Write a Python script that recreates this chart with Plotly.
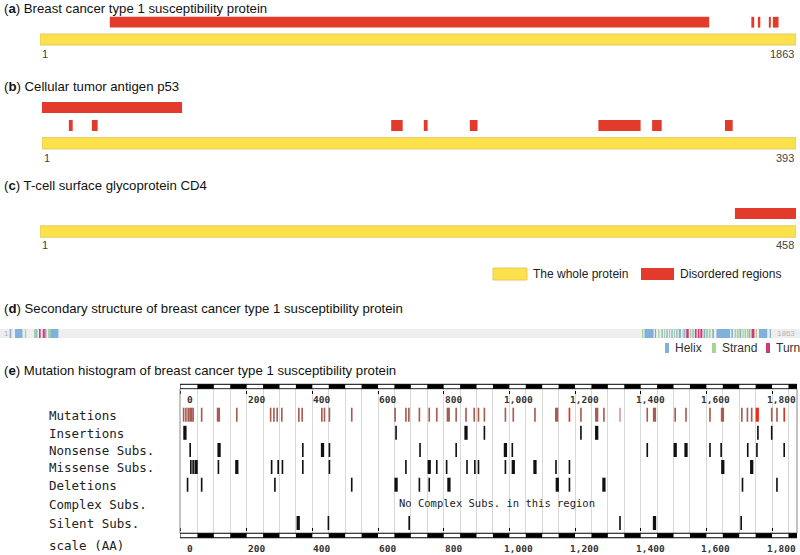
import plotly.graph_objects as go

W, H = 800, 555

# ---------------- data ----------------
BRCA1_LEN = 1863
BRCA1_DIS_START = [173, 1754, 1770, 1797, 1807]
BRCA1_DIS_END = [1649, 1760, 1775, 1801, 1820]

P53_LEN = 393
P53_DIS1_START = [1]
P53_DIS1_END = [73]
P53_DIS2_START = [15, 27, 183, 200, 224, 291, 319, 357]
P53_DIS2_END = [16, 29, 188, 201, 227, 312, 323, 360]

CD4_LEN = 458
CD4_DIS_START = [422]
CD4_DIS_END = [458]

HELIX_START = [5, 18, 69, 90, 103, 1541, 1566, 1582, 1594, 1606, 1618, 1624, 1637, 1657,
               1684, 1705, 1715, 1751, 1771, 1794, 1818, 1844]
HELIX_END = [8, 35, 71, 93, 122, 1562, 1568, 1584, 1596, 1608, 1620, 1628, 1639, 1659,
             1687, 1708, 1747, 1754, 1774, 1796, 1837, 1846]
STRAND_START = [42, 64, 98, 1535, 1574, 1588, 1600, 1612, 1633, 1651, 1690, 1697, 1759,
                1765, 1778, 1783, 1789, 1810]
STRAND_END = [44, 68, 102, 1537, 1576, 1590, 1602, 1614, 1635, 1653, 1694, 1700, 1762,
              1768, 1780, 1786, 1792, 1812]
TURN_START = [76, 85, 1642, 1663, 1670, 1676, 1800]
TURN_END = [79, 89, 1647, 1666, 1673, 1680, 1806]

ROW_NAMES = ["Mutations", "Insertions", "Nonsense Subs.", "Missense Subs.",
             "Deletions", "Complex Subs.", "Silent Subs."]
MUT_THIN = [8, 15, 22, 37, 63, 170, 273, 283, 293, 307, 359, 369, 429, 437, 452, 520, 652,
            685, 694, 726, 756, 779, 838, 868, 893, 906, 924, 988, 1012, 1078, 1218, 1288,
            1420, 1505, 1538, 1611, 1708, 1725, 1738, 1799, 1815]
MUT_THICK = [30, 114, 814, 1144, 1266, 1442, 1649]
MUT_RED_THIN = [1183, 1837]
MUT_RED_THICK = [1755]
MUT_LIGHT = [1337]
INS_THIN = [655, 924, 1218, 1757, 1799]
INS_THICK = [12, 868, 1266]
NON_THIN = [28, 371, 452, 728, 838, 1009, 1420, 1611, 1645, 1726, 1754, 1837]
NON_THICK = [116, 431, 988, 1505, 1538]
MIS_THIN = [30, 37, 114, 276, 296, 309, 371, 452, 685, 779, 809, 871, 895, 906, 988, 1142, 1183]
MIS_THICK = [46, 170, 756, 1012, 1078, 1650, 1738]
DEL_THIN = [20, 63, 286, 520, 726, 756, 1183, 1710, 1815]
DEL_THICK = [655, 816, 1146, 1288]
SIL_THIN = [449, 695, 1337, 1706]
SIL_THICK = [357, 1442]

SCALE_TICKS = [0, 200, 400, 600, 800, 1000, 1200, 1400, 1600, 1800]
SCALE_TEXT = ["0", "200", "400", "600", "800", "1,000", "1,200", "1,400", "1,600", "1,800"]
SCALE_STEP = 50
SCALE_MIN, SCALE_MAX = -3, 1876

# ---------------- styles ----------------
YELLOW = "#fde14c"
YELLOW_EDGE = "#e4ca5c"
RED = "#e23b2c"
HELIX_C = "#7fb1da"
STRAND_C = "#a7d393"
TURN_C = "#d33a73"
MUT_C = "#a85b50"
MUT_RED = "#e5301c"
MUT_LIGHT_C = "#cf9c93"
SANS = "Liberation Sans, Arial, sans-serif"
MONO = "DejaVu Sans Mono, monospace"

fig = go.Figure()
layout = {}


def ref(i, k):
    return k if i == 1 else f"{k}{i}"


def axname(i, k):
    return f"{k}axis" if i == 1 else f"{k}axis{i}"


def add_axes(i, xpx, xrange, ypx, xkw=None):
    xa = dict(domain=[xpx[0] / W, xpx[1] / W], range=xrange, visible=False,
              fixedrange=True, anchor=ref(i, "y"))
    if xkw:
        xa.update(xkw)
    ya = dict(domain=[1 - ypx[1] / H, 1 - ypx[0] / H], range=[ypx[1], ypx[0]],
              visible=False, fixedrange=True, anchor=ref(i, "x"))
    layout[axname(i, "x")] = xa
    layout[axname(i, "y")] = ya


def hbar(i, starts, ends, yc, h, color, lc=None, lw=0):
    n = len(starts)
    fig.add_trace(go.Bar(
        orientation="h", base=[s - 0.5 for s in starts],
        x=[e - s + 1 for s, e in zip(starts, ends)], y=[yc] * n, width=[h] * n,
        marker=dict(color=color, line=dict(color=lc or color, width=lw)),
        xaxis=ref(i, "x"), yaxis=ref(i, "y"), hoverinfo="skip", showlegend=False))


def vbar(i, xs, yc, h, w, color):
    n = len(xs)
    if n == 0:
        return
    fig.add_trace(go.Bar(
        x=xs, y=[h] * n, base=[yc - h / 2] * n, width=[w] * n,
        marker=dict(color=color, line=dict(width=0)),
        xaxis=ref(i, "x"), yaxis=ref(i, "y"), hoverinfo="skip", showlegend=False))


annotations = []
shapes = []


def text(s, xpx, ypx, size=13, color="#111", family=SANS, anchor="left", **kw):
    annotations.append(dict(text=s, x=xpx / W, y=1 - ypx / H, xref="paper", yref="paper",
                            xanchor=anchor, yanchor="middle", showarrow=False,
                            font=dict(size=size, color=color, family=family), **kw))


def rect(x0, x1, y0, y1, fill, line=None, lw=0, layer="above"):
    shapes.append(dict(type="rect", xref="paper", yref="paper", x0=x0 / W, x1=x1 / W,
                       y0=1 - y1 / H, y1=1 - y0 / H, fillcolor=fill,
                       line=dict(color=line or fill, width=lw), layer=layer))


# ---------- panel (a) ----------
add_axes(1, (40, 796), [0.5, BRCA1_LEN + 0.5], (10, 50))
hbar(1, [1], [BRCA1_LEN], 39.5, 11, YELLOW, YELLOW_EDGE, 1)
hbar(1, BRCA1_DIS_START, BRCA1_DIS_END, 22.2, 10.8, RED)
text("(<b>a</b>) Breast cancer type 1 susceptibility protein", 2, 8.5, size=13.2)
text("1", 40, 53.5, size=11, color="#444")
text(str(BRCA1_LEN), 796, 53.5, size=11, color="#444", anchor="right")

# ---------- panel (b) ----------
add_axes(2, (42, 796), [0.5, P53_LEN + 0.5], (95, 155))
hbar(2, [1], [P53_LEN], 143.3, 11.3, YELLOW, YELLOW_EDGE, 1)
hbar(2, P53_DIS1_START, P53_DIS1_END, 107.5, 11, RED)
hbar(2, P53_DIS2_START, P53_DIS2_END, 125.5, 11, RED)
text("(<b>b</b>) Cellular tumor antigen p53", 2, 86.5, size=13.2)
text("1", 42, 158.5, size=11, color="#444")
text(str(P53_LEN), 796, 158.5, size=11, color="#444", anchor="right")

# ---------- panel (c) ----------
add_axes(3, (40, 796), [0.5, CD4_LEN + 0.5], (200, 245))
hbar(3, [1], [CD4_LEN], 231.5, 11.3, YELLOW, YELLOW_EDGE, 1)
hbar(3, CD4_DIS_START, CD4_DIS_END, 213.5, 10.8, RED)
text("(<b>c</b>) T-cell surface glycoprotein CD4", 2, 185.5, size=13.2)
text("1", 40, 245.5, size=11, color="#444")
text(str(CD4_LEN), 796, 245.5, size=11, color="#444", anchor="right")

# legend for a-c
rect(493, 527, 268, 280, YELLOW, YELLOW_EDGE, 1)
text("The whole protein", 531, 274, size=12, color="#222")
rect(641, 674, 268, 280, RED)
text("Disordered regions", 678, 274, size=12, color="#222")

# ---------- panel (d) ----------
rect(0, 800, 329, 338, "#eeeeee", layer="below")
add_axes(4, (8, 778), [0.5, BRCA1_LEN + 0.5], (325, 342))
hbar(4, HELIX_START, HELIX_END, 333.5, 9, HELIX_C)
hbar(4, STRAND_START, STRAND_END, 333.5, 9, STRAND_C)
hbar(4, TURN_START, TURN_END, 333.5, 9, TURN_C)
text("(<b>d</b>) Secondary structure of breast cancer type 1 susceptibility protein", 2, 308.5,
     size=13.2)
text("1", 2, 333.5, size=8, color="#b5b5b5")
text(str(BRCA1_LEN), 797, 333.5, size=8, color="#b5b5b5", anchor="right")
for label, x0, c in [("Helix", 665, HELIX_C), ("Strand", 712, STRAND_C), ("Turn", 766, TURN_C)]:
    rect(x0, x0 + 4, 343, 353, c)
    text(label, x0 + 8, 348, size=12, color="#333")

# ---------- panel (e) ----------
text("(<b>e</b>) Mutation histogram of breast cancer type 1 susceptibility protein", 2, 370,
     size=13.2)
add_axes(5, (180, 797), [SCALE_MIN, SCALE_MAX], (389, 533),
         xkw=dict(visible=True, showgrid=True, gridcolor="#d9d9d9", gridwidth=1,
                  tick0=0, dtick=SCALE_STEP, showticklabels=False, ticks="",
                  zeroline=False, showline=False))
ROW_Y = [414.7, 432.8, 450.0, 467.0, 484.7, 504.0, 523.0]
BAR_H = 14
THIN_W, THICK_W = 5, 10
vbar(5, MUT_THIN, ROW_Y[0], BAR_H, THIN_W, MUT_C)
vbar(5, MUT_THICK, ROW_Y[0], BAR_H, THICK_W, MUT_C)
vbar(5, MUT_RED_THIN, ROW_Y[0], BAR_H, THIN_W, MUT_RED)
vbar(5, MUT_RED_THICK, ROW_Y[0], BAR_H, THICK_W, MUT_RED)
vbar(5, MUT_LIGHT, ROW_Y[0], BAR_H, THIN_W, MUT_LIGHT_C)
for row, (thin, thick) in enumerate([(INS_THIN, INS_THICK), (NON_THIN, NON_THICK),
                                     (MIS_THIN, MIS_THICK), (DEL_THIN, DEL_THICK)], start=1):
    vbar(5, thin, ROW_Y[row], BAR_H, THIN_W, "#111")
    vbar(5, thick, ROW_Y[row], BAR_H, THICK_W, "#111")
vbar(5, SIL_THIN, ROW_Y[6], BAR_H, THIN_W, "#111")
vbar(5, SIL_THICK, ROW_Y[6], BAR_H, THICK_W, "#111")

for name, y in zip(ROW_NAMES, ROW_Y):
    text(name, 47, y + 0.5, size=12.5, color="#222", family=MONO)
text("scale (AA)", 47, 545.5, size=12.5, color="#222", family=MONO)
text("No Complex Subs. in this region", 397, 503, size=10.5, color="#222", family=MONO)

# frame lines of the histogram box
for xd in (0, 1):
    shapes.append(dict(type="line", xref="x5 domain", yref="paper", x0=xd, x1=xd,
                       y0=1 - 533 / H, y1=1 - 389 / H, line=dict(color="#888", width=1)))

# rulers (top: axes 6, bottom: axes 7)
seg_starts = list(range(SCALE_STEP, SCALE_MAX, 2 * SCALE_STEP))
for i, (ypx, tick_side) in [(6, ((383, 389.5), "bottom")), (7, ((532, 539), "top"))]:
    add_axes(i, (180, 797), [SCALE_MIN, SCALE_MAX], ypx,
             xkw=dict(visible=True, showgrid=False, zeroline=False, showline=False,
                      showticklabels=False, ticks="outside", ticklen=3, tickcolor="#000",
                      tickwidth=1, tickvals=SCALE_TICKS, side=tick_side))
    yc = (ypx[0] + ypx[1]) / 2 + (0.3 if i == 6 else 0)
    fig.add_trace(go.Bar(orientation="h", base=[SCALE_MIN], x=[SCALE_MAX - SCALE_MIN],
                         y=[yc], width=[4.5], marker=dict(color="#fff", line=dict(color="#000", width=1)),
                         xaxis=ref(i, "x"), yaxis=ref(i, "y"), hoverinfo="skip", showlegend=False))
    fig.add_trace(go.Bar(orientation="h", base=seg_starts,
                         x=[min(SCALE_STEP, SCALE_MAX - s) for s in seg_starts],
                         y=[yc] * len(seg_starts), width=[4.5] * len(seg_starts),
                         marker=dict(color="#000", line=dict(width=0)),
                         xaxis=ref(i, "x"), yaxis=ref(i, "y"), hoverinfo="skip", showlegend=False))

for t, s in zip(SCALE_TICKS, SCALE_TEXT):
    for ypx in (399.5, 548.5):
        annotations.append(dict(text=f"<b>{s}</b>", x=t, xref="x5", y=1 - ypx / H, yref="paper",
                                xanchor="center", yanchor="middle", xshift=9.5, showarrow=False,
                                font=dict(size=9.5, color="#333", family=MONO)))

fig.update_layout(
    width=W, height=H, margin=dict(l=0, r=0, t=0, b=0),
    paper_bgcolor="white", plot_bgcolor="rgba(0,0,0,0)",
    barmode="overlay", showlegend=False,
    font=dict(family=SANS, color="#111"),
    annotations=annotations, shapes=shapes, **layout)

fig.write_html(
    "out.html",
    config={"staticPlot": True},
    post_script="document.documentElement.style.margin='0';document.body.style.margin='0';"
                "document.body.style.overflow='hidden';",
)
